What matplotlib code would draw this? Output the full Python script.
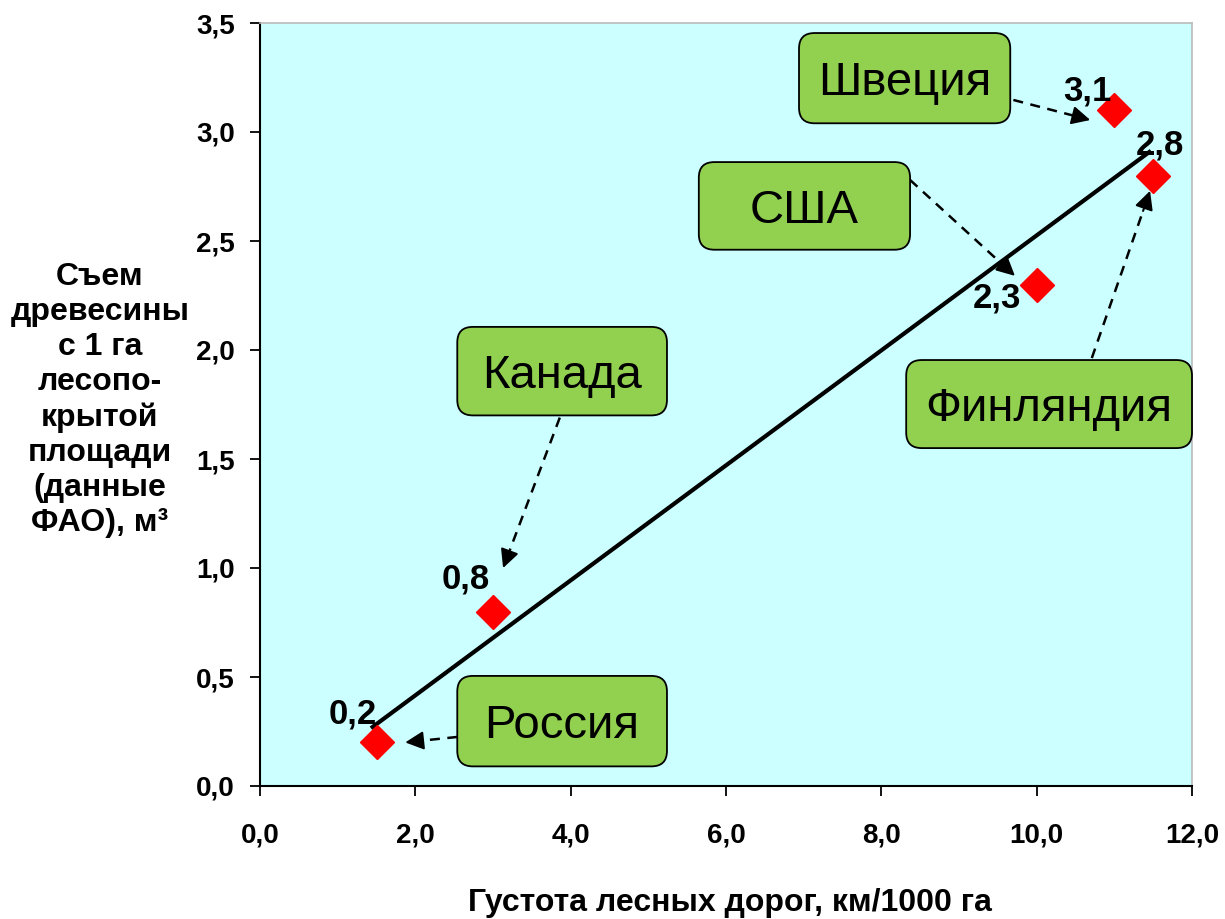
import numpy as np
import matplotlib.pyplot as plt
from matplotlib.patches import FancyBboxPatch
from matplotlib.ticker import FuncFormatter

# Road density vs. timber harvest per ha
countries = ["Россия", "Канада", "США", "Швеция", "Финляндия"]
road_density = [1.5, 3.0, 10.0, 11.0, 11.5]
harvest = [0.2, 0.8, 2.3, 3.1, 2.8]
value_labels = ["0,2", "0,8", "2,3", "3,1", "2,8"]

# label offsets (data units) and callout layout: box (x0, x1, y0, y1), arrow start/end
label_pos = [(1.19, 0.33), (2.65, 0.95), (9.49, 2.24), (10.65, 3.19), (11.59, 2.94)]
boxes = [(2.54, 5.24, 0.09, 0.505), (2.54, 5.24, 1.70, 2.106), (5.65, 8.37, 2.46, 2.862),
         (6.94, 9.66, 3.04, 3.454), (8.32, 12.0, 1.55, 1.954)]
arrows = [((2.54, 0.225), (1.87, 0.20)), ((3.86, 1.69), (3.13, 1.00)),
          ((8.37, 2.78), (9.72, 2.34)), ((9.70, 3.147), (10.69, 3.055)),
          ((10.71, 1.963), (11.46, 2.73))]

plt.rcParams["font.family"] = ["Liberation Sans", "DejaVu Sans"]

fig = plt.figure(figsize=(12.25, 9.19), dpi=100)
ax = fig.add_axes([260 / 1225, 133 / 919, 932 / 1225, 763 / 919])
ax.set_facecolor("#CCFFFF")
ax.set_xlim(0, 12)
ax.set_ylim(0, 3.5)

# trend line (least squares)
k, b = np.polyfit(road_density, harvest, 1)
xt = np.array([1.45, 11.45])
ax.plot(xt, k * xt + b, color="black", lw=3, zorder=3)

ax.plot(road_density, harvest, "D", color="red", ms=17, mec="red", zorder=4, clip_on=False)

for lab, (lx, ly) in zip(value_labels, label_pos):
    ax.text(lx, ly, lab, fontsize=25, fontweight="bold",
            ha="center", va="center", zorder=5)

aspect = (932 / 12) / (763 / 3.5)
for name, (x0, x1, y0, y1) in zip(countries, boxes):
    box = FancyBboxPatch((x0, y0), x1 - x0, y1 - y0,
                         boxstyle="round,pad=0,rounding_size=0.2",
                         mutation_aspect=aspect,
                         fc="#92D050", ec="black", lw=1.3, zorder=6, clip_on=False)
    ax.add_patch(box)
    ax.text((x0 + x1) / 2, (y0 + y1) / 2, name, fontsize=34,
            ha="center", va="center_baseline", zorder=7)

for (sx, sy), (ex, ey) in arrows:
    # dashed shaft + solid head
    hx = ex - (ex - sx) * 0.12
    hy = ey - (ey - sy) * 0.12
    ax.plot([sx, hx], [sy, hy], color="black", lw=1.8, ls=(0, (4, 3)), zorder=5)
    ax.annotate("", xy=(ex, ey), xytext=(hx, hy),
                arrowprops=dict(arrowstyle="-|>", color="black", lw=1.5,
                                mutation_scale=28, shrinkA=0, shrinkB=0), zorder=5)

ax.set_xticks(np.arange(0, 12.1, 2))
ax.set_yticks(np.arange(0, 3.51, 0.5))
fmt = FuncFormatter(lambda v, p: f"{v:.1f}".replace(".", ","))
ax.xaxis.set_major_formatter(fmt)
ax.yaxis.set_major_formatter(fmt)
ax.tick_params(axis="both", direction="out", length=7, width=1.3, labelsize=20)
ax.tick_params(axis="x", pad=19)
ax.tick_params(axis="y", pad=11)
for t in ax.get_xticklabels() + ax.get_yticklabels():
    t.set_fontweight("bold")

for s in ["left", "bottom"]:
    ax.spines[s].set_linewidth(1.5)
for s in ["top", "right"]:
    ax.spines[s].set_color("#BBBBBB")
    ax.spines[s].set_linewidth(1.2)

fig.text(730 / 1225, 1 - 903 / 919, "Густота лесных дорог, км/1000 га",
         fontsize=23, fontweight="bold", ha="center", va="center")
fig.text(100 / 1225, 1 - 400 / 919,
         "Съем\nдревесины\nс 1 га\nлесопо-\nкрытой\nплощади\n(данные\nФАО), м³",
         fontsize=23, fontweight="bold", ha="center", va="center", linespacing=1.22)

fig.savefig("out.png", dpi=100)
